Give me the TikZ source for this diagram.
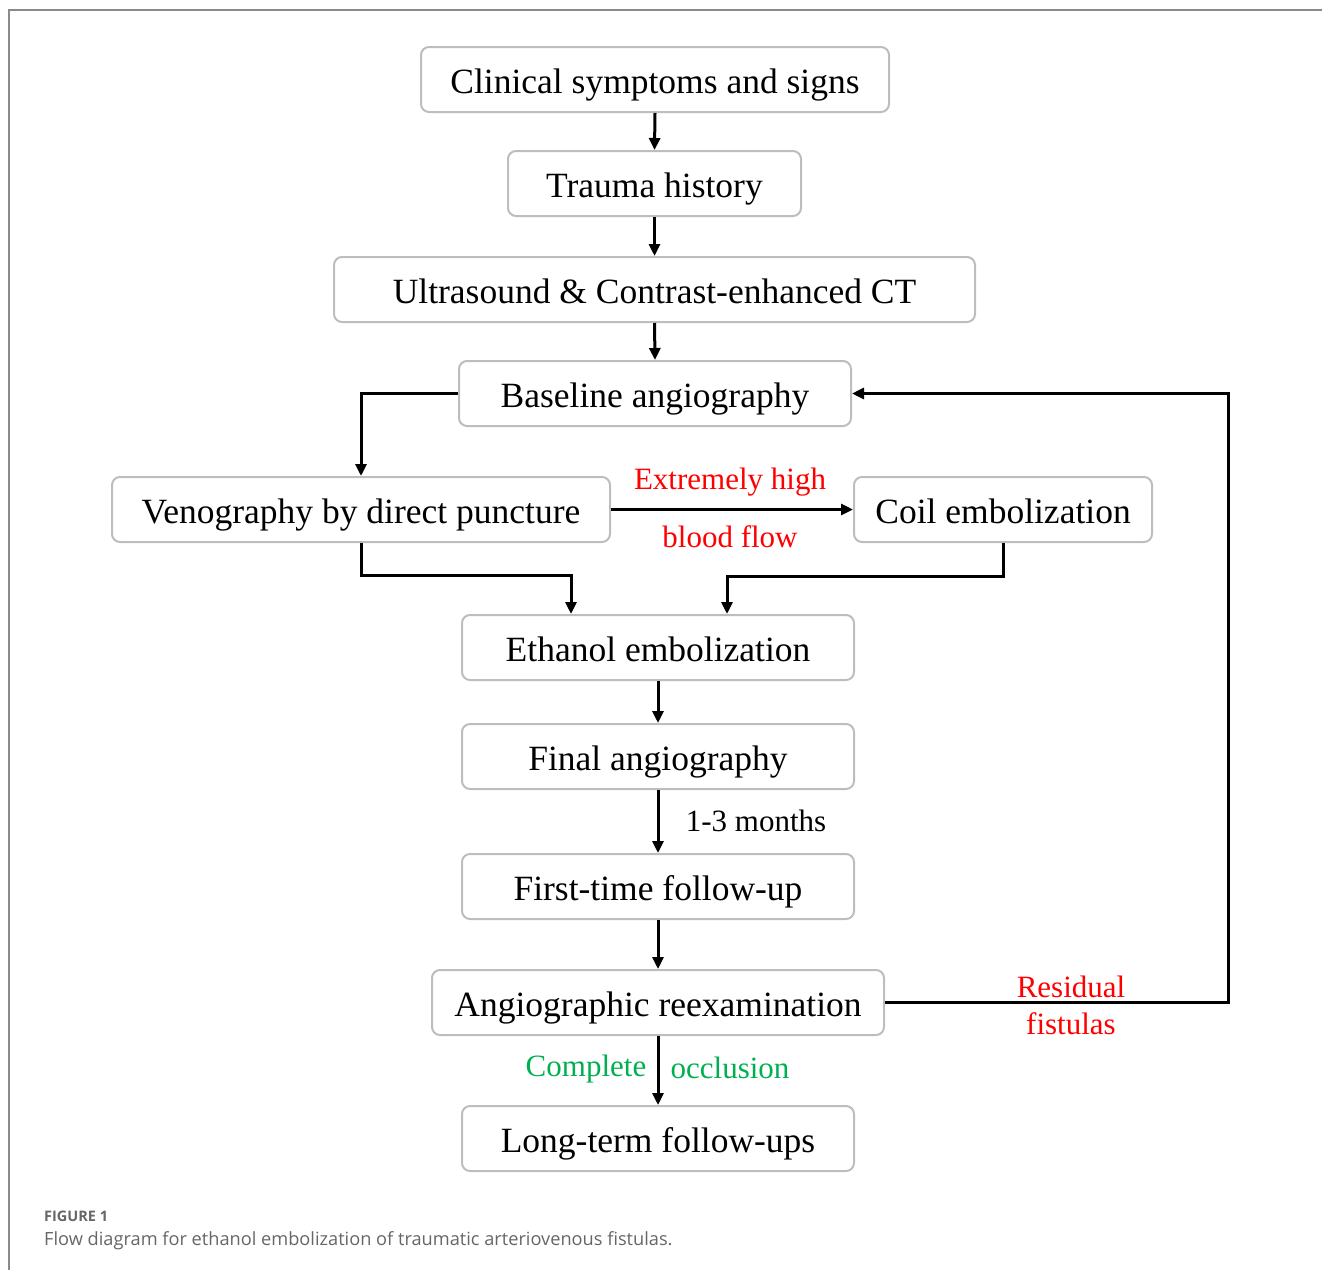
\documentclass[tikz,border=0pt]{standalone}
\usepackage{fontspec}
\setmainfont{Liberation Serif}
\newfontfamily\capfont{Open Sans}
\usetikzlibrary{arrows.meta}
\definecolor{boxgray}{HTML}{BDBDBD}
\definecolor{myred}{HTML}{FF0000}
\definecolor{mygreen}{HTML}{00B050}
\definecolor{framegray}{HTML}{8A8A8A}
\definecolor{capgray}{HTML}{666666}
\tikzset{
  box/.style={draw=boxgray, line width=2pt, rounded corners=8pt, minimum height=65pt, inner sep=0pt, text height=27pt, text depth=0pt, font=\fontsize{35.5}{40}\selectfont},
  conn/.style={line width=3pt, -{Triangle[length=12pt,width=11pt]}},
  redlab/.style={text=myred, font=\fontsize{31}{34}\selectfont, inner sep=0pt},
  greenlab/.style={text=mygreen, font=\fontsize{31}{34}\selectfont, inner sep=0pt},
  blklab/.style={text=black, font=\fontsize{31}{34}\selectfont, inner sep=0pt}
}
\begin{document}
\begin{tikzpicture}[x=1pt,y=-1pt]
\useasboundingbox (0,0) rectangle (1322,1270);
\draw[framegray, line width=1.5pt] (1322,10) -- (9,10) -- (9,1270);

\node[box, minimum width=468pt] (clin) at (655,79.5) {Clinical symptoms and signs};
\node[box, minimum width=293pt] (trauma) at (654.5,183.5) {Trauma history};
\node[box, minimum width=641pt] (us) at (654.5,289.5) {Ultrasound \& Contrast-enhanced CT};
\node[box, minimum width=392pt] (base) at (655,393.5) {Baseline angiography};
\node[box, minimum width=498pt] (veno) at (361,509.5) {Venography by direct puncture};
\node[box, minimum width=298pt] (coil) at (1003,509.5) {Coil embolization};
\node[box, minimum width=392pt] (eth) at (658,647.5) {Ethanol embolization};
\node[box, minimum width=392pt] (final) at (658,756.5) {Final angiography};
\node[box, minimum width=392pt] (first) at (658,886.5) {First-time follow-up};
\node[box, minimum width=452pt] (angio) at (658,1002.5) {Angiographic reexamination};
\node[box, minimum width=392pt] (long) at (658,1138.5) {Long-term follow-ups};

\draw[conn] (clin.south) -- (trauma.north);
\draw[conn] (trauma.south) -- (us.north);
\draw[conn] (us.south) -- (base.north);
\draw[conn] (base.west) -| (veno.north);
\draw[conn] (veno.east) -- (coil.west);
\coordinate (ethL) at (571,615);
\coordinate (ethR) at (727,615);
\draw[conn] (veno.south) |- (571,575) -- (eth.north -| ethL);
\draw[conn] (coil.south) |- (727,576) -- (eth.north -| ethR);
\draw[conn] (eth.south) -- (final.north);
\draw[conn] (final.south) -- (first.north);
\draw[conn] (first.south) -- (angio.north);
\draw[conn] (angio.south) -- (long.north);
\draw[conn] (angio.east) -- (1228,1002.5) |- (base.east);

\node[redlab] (ext) at (730,482) {Extremely high};
\node[redlab] (bf) at (730,537) {blood flow};
\node[blklab] (mo) at (756,821) {1-3 months};
\node[greenlab] (comp) at (586,1069) {Complete};
\node[greenlab] (occ) at (730,1068) {occlusion};
\node[redlab] (res) at (1071,987) {Residual};
\node[redlab] (fis) at (1071,1024) {fistulas};

\node[anchor=base west, inner sep=0pt, text=capgray, font=\capfont\fontsize{14.5}{16}\selectfont\bfseries] (figl) at (44,1221) {FIGURE 1};
\node[anchor=base west, inner sep=0pt, text=capgray, font=\capfont\fontsize{18.2}{20}\selectfont] (capt) at (44,1245) {Flow diagram for ethanol embolization of traumatic arteriovenous fistulas.};
\end{tikzpicture}
\end{document}
